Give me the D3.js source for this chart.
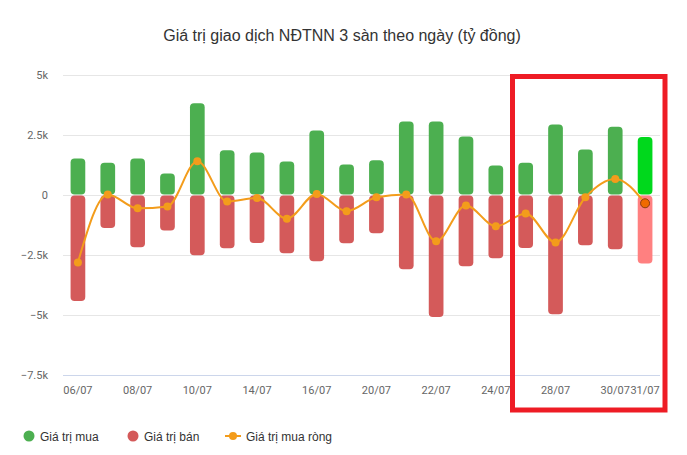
<!DOCTYPE html>
<html>
<head>
<meta charset="utf-8">
<script src="https://cdn.jsdelivr.net/npm/d3@7"></script>
<style>
  body { margin: 0; background: #fff; }
  text { font-family: "Liberation Sans", Arial, sans-serif; }
  .axis-label { font-family: Roboto, "Liberation Sans", sans-serif; }
</style>
</head>
<body>
<div id="chart"></div>
<script>
// ngày giao dịch
var days = ["06/07","07/07","08/07","09/07","10/07","13/07","14/07","15/07","16/07","17/07",
            "20/07","21/07","22/07","23/07","24/07","27/07","28/07","29/07","30/07","31/07"];
// tỷ đồng
var buyValues  = [1520,1350,1520,900,3820,1870,1770,1400,2690,1270,
                  1450,3060,3060,2440,1230,1350,2940,1900,2850,2420];
var sellValues = [-4410,-1370,-2170,-1470,-2500,-2210,-1990,-2420,-2750,-2000,
                  -1590,-3090,-5070,-2960,-2630,-2200,-4960,-2090,-2250,-2850];
var netValues  = [-2800,30,-550,-470,1410,-270,-120,-980,50,-670,
                  -90,30,-1920,-430,-1300,-760,-1970,-90,670,-340];
var yTicks = [5000,2500,0,-2500,-5000,-7500];
var tickDays = ["06/07","08/07","10/07","14/07","16/07","20/07","22/07","24/07","28/07","30/07","31/07"];
var legendItems = ["Giá trị mua","Giá trị bán","Giá trị mua ròng"];

(function () {
'use strict';

var W = 687, H = 455;
// note: "top" is taken by window.top, keep plot* names
var plotLeft = 63, plotRight = 660, plotTop = 75, plotBottom = 375.3;

var svg = d3.select("#chart").append("svg")
  .attr("width", W).attr("height", H);

var x = d3.scaleBand().domain(days).range([plotLeft, plotRight]);
var y = d3.scaleLinear().domain([-7500, 5000]).range([plotBottom, plotTop]);

function fmt(v){
  if(v === 0) return "0";
  return d3.format("~g")(v / 1000) + "k";
}

// title
svg.append("text")
  .attr("x", 342).attr("y", 41)
  .attr("text-anchor", "middle")
  .attr("font-size", "16px")
  .attr("fill", "#333")
  .text("Giá trị giao dịch NĐTNN 3 sàn theo ngày (tỷ đồng)");

// grid + y labels
var grid = svg.append("g");
yTicks.forEach(function(t){
  grid.append("line")
    .attr("x1", plotLeft).attr("x2", plotRight)
    .attr("y1", Math.round(y(t)) + 0.5).attr("y2", Math.round(y(t)) + 0.5)
    .attr("stroke", t === -7500 ? "#ccd6eb" : "#e6e6e6");
  grid.append("text")
    .attr("class", "axis-label")
    .attr("x", 48).attr("y", y(t) + 4)
    .attr("text-anchor", "end")
    .attr("font-size", "11px")
    .attr("fill", "#666")
    .text(fmt(t));
});

// x labels
svg.append("g").selectAll("text")
  .data(tickDays)
  .join("text")
    .attr("class", "axis-label")
    .attr("x", function(d){ return x(d) + x.bandwidth()/2; })
    .attr("y", 394)
    .attr("text-anchor", "middle")
    .attr("font-size", "11px")
    .attr("fill", "#666")
    .text(function(d){ return d; });

var bw = 14.7;
var last = days.length - 1;

// buy bars
svg.append("g").selectAll("rect")
  .data(buyValues)
  .join("rect")
    .attr("x", function(d, i){ return x(days[i]) + (x.bandwidth() - bw)/2; })
    .attr("y", function(d){ return y(d); })
    .attr("width", bw)
    .attr("height", function(d){ return y(0) - y(d) - 0.5; })
    .attr("rx", 4)
    .attr("fill", function(d, i){ return i === last ? "#00d81c" : "#4caf50"; });

// sell bars
svg.append("g").selectAll("rect")
  .data(sellValues)
  .join("rect")
    .attr("x", function(d, i){ return x(days[i]) + (x.bandwidth() - bw)/2; })
    .attr("y", y(0) + 0.5)
    .attr("width", bw)
    .attr("height", function(d){ return y(d) - y(0) - 0.5; })
    .attr("rx", 4)
    .attr("fill", function(d, i){ return i === last ? "#ff8080" : "#d45a5a"; });

// net line
var line = d3.line()
  .x(function(d, i){ return x(days[i]) + x.bandwidth()/2; })
  .y(function(d){ return y(d); })
  .curve(d3.curveMonotoneX);

svg.append("path")
  .datum(netValues)
  .attr("d", line)
  .attr("fill", "none")
  .attr("stroke", "#f39c1b")
  .attr("stroke-width", 2);

svg.append("g").selectAll("circle")
  .data(netValues)
  .join("circle")
    .attr("cx", function(d, i){ return x(days[i]) + x.bandwidth()/2; })
    .attr("cy", function(d){ return y(d); })
    .attr("r", function(d, i){ return i === last ? 4.5 : 4; })
    .attr("fill", function(d, i){ return i === last ? "#f06a00" : "#f39c1b"; })
    .attr("stroke", function(d, i){ return i === last ? "#8a3c10" : "none"; })
    .attr("stroke-width", 1);

// legend
var lg = svg.append("g");
var lx = [29, 133, 233];
var lcol = ["#4caf50", "#d45a5a", "#f39c1b"];
legendItems.forEach(function(name, i){
  if(i === 2){
    lg.append("line")
      .attr("x1", lx[i] - 8).attr("x2", lx[i] + 8)
      .attr("y1", 436).attr("y2", 436)
      .attr("stroke", lcol[i]).attr("stroke-width", 2);
  }
  lg.append("circle")
    .attr("cx", lx[i]).attr("cy", 436).attr("r", i === 2 ? 4 : 5.5)
    .attr("fill", lcol[i]);
  lg.append("text")
    .attr("x", i === 2 ? lx[i] + 13 : lx[i] + 11).attr("y", 440.5)
    .attr("font-size", "12px")
    .attr("fill", "#333")
    .text(name);
});

// highlight box
svg.append("rect")
  .attr("x", 512.5).attr("y", 76.5)
  .attr("width", 152.5).attr("height", 333.5)
  .attr("fill", "none")
  .attr("stroke", "#ee1c25")
  .attr("stroke-width", 5);

}());
</script>
</body>
</html>
